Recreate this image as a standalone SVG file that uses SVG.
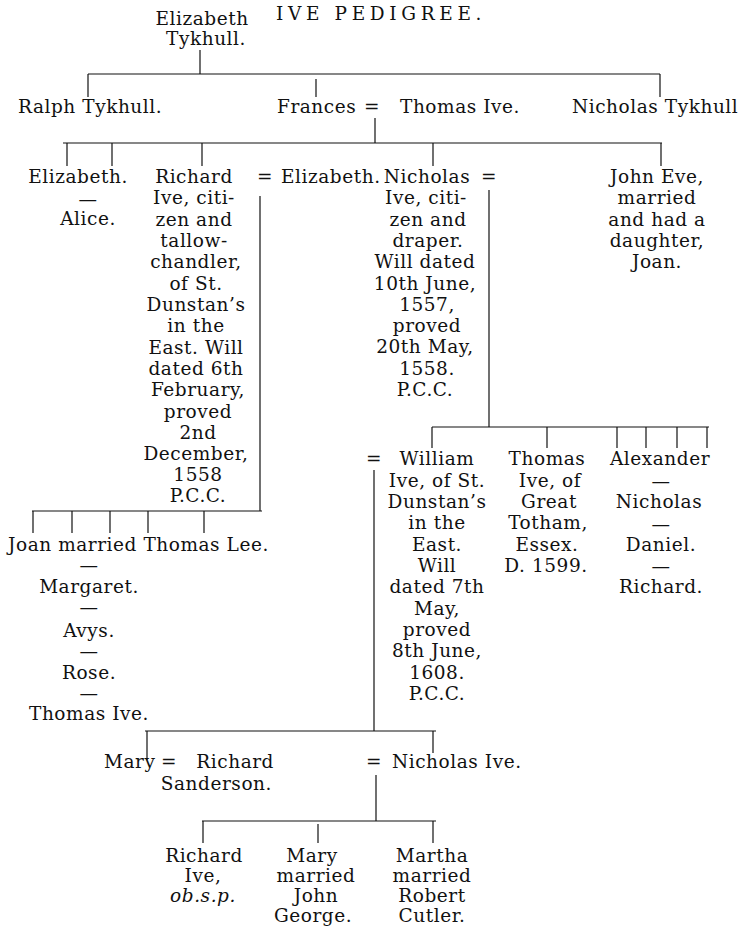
<svg xmlns="http://www.w3.org/2000/svg" width="744" height="927" viewBox="0 0 744 927">
<style>
text{font-family:"DejaVu Serif","Liberation Serif",serif;font-size:18.5px;letter-spacing:0.55px;fill:#111}
.m{text-anchor:middle}
.e{text-anchor:end}
.i{font-style:italic}
line{stroke:#111;stroke-width:1.2}
</style>
<rect width="744" height="927" fill="#fff"/>
<text id="title" class="m" x="379" y="20" font-size="20" textLength="206" lengthAdjust="spacing">IVE PEDIGREE.</text>
<g id="connectors">
<line x1="200" y1="50" x2="200" y2="74"/>
<line x1="88" y1="74" x2="660" y2="74"/>
<line x1="88" y1="74" x2="88" y2="97"/>
<line x1="316" y1="79" x2="316" y2="97"/>
<line x1="660" y1="74" x2="660" y2="97"/>
<line x1="375" y1="118" x2="375" y2="143"/>
<line x1="63" y1="143" x2="662" y2="143"/>
<line x1="67" y1="143" x2="67" y2="166"/>
<line x1="112" y1="143" x2="112" y2="166"/>
<line x1="202" y1="143" x2="202" y2="166"/>
<line x1="433" y1="143" x2="433" y2="166"/>
<line x1="661" y1="143" x2="661" y2="166"/>
<line x1="260" y1="196" x2="260" y2="511"/>
<line x1="32" y1="511" x2="262" y2="511"/>
<line x1="33" y1="511" x2="33" y2="533"/>
<line x1="72" y1="511" x2="72" y2="533"/>
<line x1="110" y1="511" x2="110" y2="533"/>
<line x1="148" y1="511" x2="148" y2="533"/>
<line x1="204" y1="511" x2="204" y2="533"/>
<line x1="489" y1="190" x2="489" y2="427"/>
<line x1="432" y1="427" x2="709" y2="427"/>
<line x1="432" y1="427" x2="432" y2="448"/>
<line x1="547" y1="427" x2="547" y2="448"/>
<line x1="617" y1="427" x2="617" y2="448"/>
<line x1="646" y1="427" x2="646" y2="448"/>
<line x1="677" y1="427" x2="677" y2="448"/>
<line x1="707" y1="427" x2="707" y2="448"/>
<line x1="374" y1="470" x2="374" y2="731"/>
<line x1="145" y1="731" x2="436" y2="731"/>
<line x1="147" y1="731" x2="147" y2="760"/>
<line x1="433" y1="731" x2="433" y2="753"/>
<line x1="376" y1="775" x2="376" y2="821"/>
<line x1="202" y1="821" x2="436" y2="821"/>
<line x1="203" y1="821" x2="203" y2="843"/>
<line x1="318" y1="824" x2="318" y2="843"/>
<line x1="433" y1="821" x2="433" y2="843"/>
</g>
<g id="elizabeth-tykhull">
<text class="m" x="202" y="25">Elizabeth</text>
<text class="m" x="206" y="45">Tykhull.</text>
</g>
<g id="ralph-tykhull"><text x="18" y="113">Ralph Tykhull.</text></g>
<g id="frances"><text x="277" y="113">Frances</text><text class="m" x="372" y="113">=</text></g>
<g id="thomas-ive-sr"><text x="400" y="113">Thomas Ive.</text></g>
<g id="nicholas-tykhull"><text x="572" y="113">Nicholas Tykhull</text></g>
<g id="elizabeth-alice">
<text class="m" x="78" y="183">Elizabeth.</text>
<text class="m" x="88" y="206">—</text>
<text class="m" x="88" y="225">Alice.</text>
</g>
<g id="richard-ive">
<text class="m" x="194" y="183">Richard</text>
<text class="m" x="194" y="204">Ive, citi-</text>
<text class="m" x="194" y="226">zen and</text>
<text class="m" x="194" y="247">tallow-</text>
<text class="m" x="196" y="268">chandler,</text>
<text class="m" x="196" y="290">of St.</text>
<text class="m" x="196" y="311">Dunstan’s</text>
<text class="m" x="196" y="332">in the</text>
<text class="m" x="196" y="354">East. Will</text>
<text class="m" x="196" y="375">dated 6th</text>
<text class="m" x="198" y="396">February,</text>
<text class="m" x="198" y="418">proved</text>
<text class="m" x="198" y="439">2nd</text>
<text class="m" x="196" y="460">December,</text>
<text class="m" x="198" y="481">1558</text>
<text class="m" x="198" y="502">P.C.C.</text>
<text class="m" x="265" y="183">=</text>
</g>
<g id="elizabeth-wife"><text x="281" y="183">Elizabeth.</text></g>
<g id="nicholas-ive">
<text class="m" x="427" y="183">Nicholas</text>
<text class="m" x="489" y="183">=</text>
<text class="m" x="426" y="204">Ive, citi-</text>
<text class="m" x="428" y="226">zen and</text>
<text class="m" x="428" y="247">draper.</text>
<text class="m" x="425" y="268">Will dated</text>
<text class="m" x="425" y="290">10th June,</text>
<text class="m" x="427" y="311">1557,</text>
<text class="m" x="427" y="332">proved</text>
<text class="m" x="425" y="353">20th May,</text>
<text class="m" x="427" y="375">1558.</text>
<text class="m" x="425" y="396">P.C.C.</text>
</g>
<g id="john-eve">
<text class="m" x="657" y="183">John Eve,</text>
<text class="m" x="657" y="204">married</text>
<text class="m" x="657" y="226">and had a</text>
<text class="m" x="657" y="247">daughter,</text>
<text class="m" x="657" y="268">Joan.</text>
</g>
<g id="william-ive">
<text class="m" x="374" y="465">=</text>
<text class="m" x="437" y="465">William</text>
<text class="m" x="437" y="487">Ive, of St.</text>
<text class="m" x="437" y="508">Dunstan’s</text>
<text class="m" x="437" y="529">in the</text>
<text class="m" x="437" y="551">East.</text>
<text class="m" x="437" y="572">Will</text>
<text class="m" x="437" y="593">dated 7th</text>
<text class="m" x="437" y="615">May,</text>
<text class="m" x="437" y="636">proved</text>
<text class="m" x="437" y="657">8th June,</text>
<text class="m" x="437" y="679">1608.</text>
<text class="m" x="437" y="700">P.C.C.</text>
</g>
<g id="thomas-ive-totham">
<text class="m" x="547" y="465">Thomas</text>
<text class="m" x="550" y="487">Ive, of</text>
<text class="m" x="549" y="508">Great</text>
<text class="m" x="548" y="529">Totham,</text>
<text class="m" x="547" y="551">Essex.</text>
<text class="m" x="546" y="572">D. 1599.</text>
</g>
<g id="alexander-etc">
<text class="m" x="660" y="465">Alexander</text>
<text class="m" x="661" y="488">—</text>
<text class="m" x="659" y="508">Nicholas</text>
<text class="m" x="661" y="531">—</text>
<text class="m" x="661" y="551">Daniel.</text>
<text class="m" x="661" y="573">—</text>
<text class="m" x="661" y="593">Richard.</text>
</g>
<g id="joan-etc">
<text x="8" y="551">Joan married Thomas Lee.</text>
<text class="m" x="89" y="572">—</text>
<text class="m" x="89" y="593">Margaret.</text>
<text class="m" x="89" y="614">—</text>
<text class="m" x="89" y="637">Avys.</text>
<text class="m" x="89" y="658">—</text>
<text class="m" x="89" y="679">Rose.</text>
<text class="m" x="89" y="700">—</text>
<text class="m" x="89" y="720">Thomas Ive.</text>
</g>
<g id="mary-sanderson">
<text x="104" y="768">Mary</text>
<text class="m" x="169" y="768">=</text>
<text class="e" x="274" y="768">Richard</text>
<text class="e" x="272" y="790">Sanderson.</text>
</g>
<g id="nicholas-ive-jr">
<text class="m" x="374" y="768">=</text>
<text x="392" y="768">Nicholas Ive.</text>
</g>
<g id="richard-ive-jr">
<text class="m" x="204" y="862">Richard</text>
<text class="m" x="203" y="882">Ive,</text>
<text class="m i" x="203" y="902">ob.s.p.</text>
</g>
<g id="mary-george">
<text class="m" x="312" y="862">Mary</text>
<text class="m" x="316" y="882">married</text>
<text class="m" x="316" y="902">John</text>
<text class="m" x="313" y="922">George.</text>
</g>
<g id="martha-cutler">
<text class="m" x="432" y="862">Martha</text>
<text class="m" x="432" y="882">married</text>
<text class="m" x="432" y="902">Robert</text>
<text class="m" x="432" y="922">Cutler.</text>
</g>
</svg>
